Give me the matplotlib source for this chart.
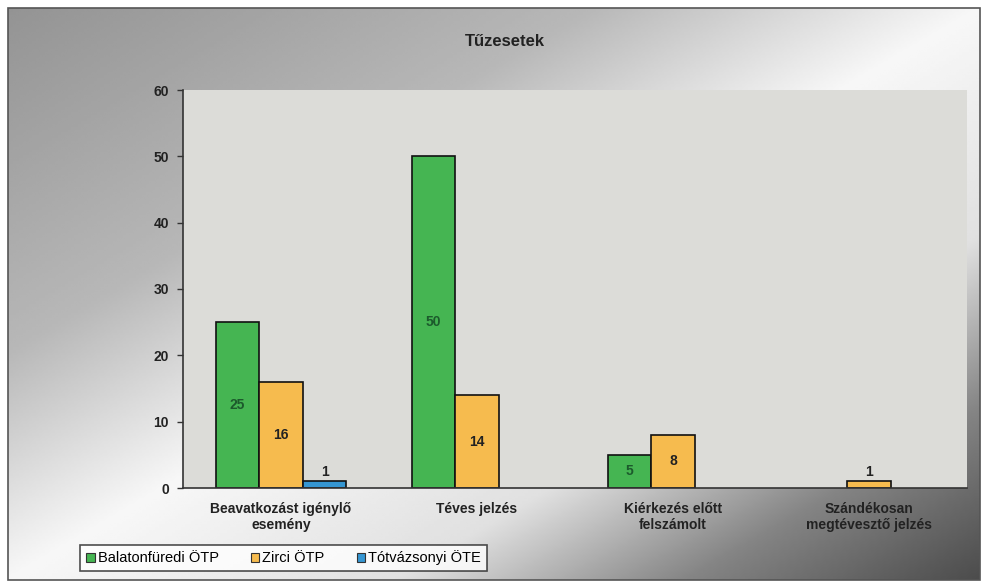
"""
Tűzesetek - grouped bar chart recreation
"""
import numpy as np
import matplotlib
matplotlib.use("Agg")
import matplotlib.pyplot as plt
from matplotlib.patches import Rectangle

# Data
categories = ['Beavatkozást igénylő\nesemény', 'Téves jelzés',
              'Kiérkezés előtt\nfelszámolt', 'Szándékosan\nmegtévesztő jelzés']
series_names = ['Balatonfüredi ÖTP', 'Zirci ÖTP', 'Tótvázsonyi ÖTE']
balatonfuredi = [25, 50, 5, 0]
zirci = [16, 14, 8, 1]
totvazsonyi = [1, 0, 0, 0]
y_ticks = [0, 10, 20, 30, 40, 50, 60]

colors = ['#45b552', '#f6bb4e', '#3596d2']
label_colors = ['#1c5a2c', '#222222', '#222222']

plt.rcParams['font.family'] = ['Liberation Sans', 'DejaVu Sans']

W, H = 985, 584
fig = plt.figure(figsize=(W / 100, H / 100), dpi=100)
fig.patch.set_facecolor('white')

# scanned-look diagonal gradient behind the chart
bg = fig.add_axes([0, 0, 1, 1], zorder=0)
bg.set_xlim(0, W)
bg.set_ylim(H, 0)
bg.axis('off')
xx, yy = np.meshgrid(np.linspace(0, 1, 300), np.linspace(0, 1, 200))
d = (xx + yy) / 2
val = np.interp(d, [0, 0.3, 0.5, 0.7, 0.85, 1.0],
                [0.58, 0.72, 0.97, 0.88, 0.52, 0.30])
bg.imshow(val, cmap='gray', vmin=0, vmax=1, extent=[8, 980, 580, 8],
          aspect='auto', interpolation='bilinear')
bg.add_patch(Rectangle((8, 8), 972, 572, fill=False, edgecolor='#555555', lw=1.2))

ax = fig.add_axes([183 / W, 1 - 488 / H, (967 - 183) / W, (488 - 90) / H], zorder=1)
ax.set_facecolor('#dcdcd8')

x = np.arange(len(categories))
bw = 1 / 4.5
all_series = [balatonfuredi, zirci, totvazsonyi]
for i, (vals, c) in enumerate(zip(all_series, colors)):
    pos = x + (i - 1) * bw
    lws = [1.2 if v > 0 else 0 for v in vals]
    bars = ax.bar(pos, vals, width=bw, color=c, edgecolor='#111111', linewidth=lws)
    for b, v in zip(bars, vals):
        if v == 0:
            continue
        cx = b.get_x() + b.get_width() / 2
        if v >= 5:
            ax.text(cx, v / 2, str(v), ha='center', va='center', fontsize=10,
                    fontweight='bold', color=label_colors[i])
        else:
            ax.text(cx, v + 0.4, str(v), ha='center', va='bottom', fontsize=10,
                    fontweight='bold', color='#222222')

ax.set_xlim(-0.5, len(categories) - 0.5)
ax.set_ylim(0, 60)
ax.set_yticks(y_ticks)
ax.set_yticklabels([str(t) for t in y_ticks], fontsize=10, fontweight='bold', color='#222222')
ax.set_xticks(x)
ax.set_xticklabels(categories, fontsize=10, fontweight='bold', color='#222222')
ax.tick_params(axis='x', length=0, pad=10)
ax.tick_params(axis='y', direction='out', length=4, width=1, color='#333333', pad=6)
for s in ['top', 'right']:
    ax.spines[s].set_visible(False)
for s in ['left', 'bottom']:
    ax.spines[s].set_color('#333333')
    ax.spines[s].set_linewidth(1.2)

fig.text(505 / W, 1 - 42 / H, 'Tűzesetek', ha='center', va='center',
         fontsize=12, fontweight='bold', color='#222222')

handles = [Rectangle((0, 0), 1, 1, facecolor=c, edgecolor='#333333', lw=0.8) for c in colors]
leg = fig.legend(handles, series_names, loc='center left',
                 bbox_to_anchor=(80 / W, 1 - 558 / H), ncol=3, fontsize=10.5,
                 frameon=True, fancybox=False, edgecolor='#222222',
                 handlelength=0.6, handleheight=0.6, handletextpad=0.2,
                 columnspacing=2.2, borderpad=0.4, borderaxespad=0.0)
leg.get_frame().set_linewidth(1.2)
leg.get_frame().set_facecolor('white')

fig.savefig('out.png', dpi=100)
